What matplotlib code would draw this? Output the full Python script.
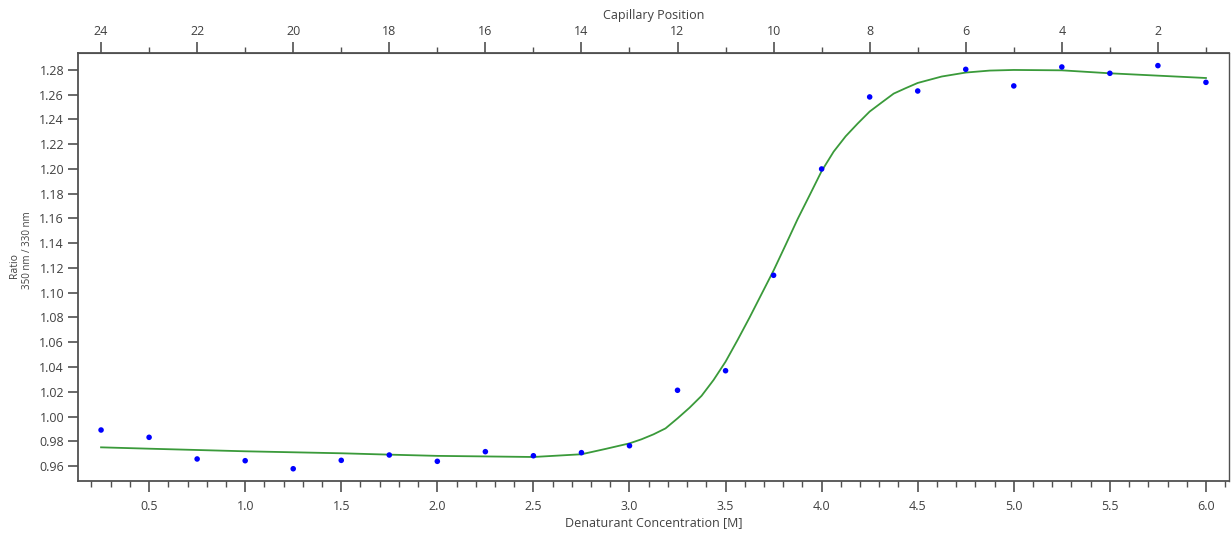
import matplotlib.pyplot as plt
from matplotlib.ticker import MultipleLocator

plt.rcParams['font.family'] = ['Open Sans', 'DejaVu Sans']

# measured ratio per capillary
conc = [0.25, 0.5, 0.75, 1.0, 1.25, 1.5, 1.75, 2.0, 2.25, 2.5, 2.75, 3.0,
        3.25, 3.5, 3.75, 4.0, 4.25, 4.5, 4.75, 5.0, 5.25, 5.5, 5.75, 6.0]
ratio = [0.9891, 0.9832, 0.9657, 0.9643, 0.9578, 0.9646, 0.9689, 0.9638,
         0.9716, 0.9683, 0.9708, 0.9764, 1.0212, 1.0370, 1.1141, 1.2000,
         1.2582, 1.2630, 1.2805, 1.2671, 1.2824, 1.2773, 1.2835, 1.2700]

# fitted curve
fit_x = [0.25, 0.5, 1.0, 1.5, 1.75, 2.0, 2.5, 2.75, 2.875, 3.0, 3.0625,
         3.125, 3.1875, 3.25, 3.3125, 3.375, 3.4375, 3.5, 3.5625, 3.625,
         3.6875, 3.75, 3.8125, 3.875, 3.9375, 4.0, 4.0625, 4.125, 4.1875,
         4.25, 4.3125, 4.375, 4.4375, 4.5, 4.625, 4.75, 4.875, 5.0, 5.25,
         5.5, 5.75, 6.0]
fit_y = [0.9751, 0.9740, 0.9719, 0.9703, 0.9692, 0.9682, 0.9673, 0.9695,
         0.9738, 0.9783, 0.9816, 0.9856, 0.9904, 0.9985, 1.0071, 1.0167,
         1.0295, 1.0443, 1.0618, 1.0800, 1.0990, 1.1180, 1.1386, 1.1595,
         1.1788, 1.1983, 1.2140, 1.2264, 1.2367, 1.2464, 1.2537, 1.2609,
         1.2653, 1.2695, 1.2747, 1.2779, 1.2795, 1.2800, 1.2797, 1.2773,
         1.2754, 1.2735]

top_major = list(range(2, 25, 2))
top_minor = list(range(1, 25, 2))

txt = '#404040'
spine = '#505050'

fig = plt.figure(figsize=(12.32, 5.34), dpi=100)
ax = fig.add_axes([78/1232, 1 - 481/534, (1229-78)/1232, (481-53)/534])

ax.plot(fit_x, fit_y, color='#3a9a3a', lw=1.3, zorder=2)
ax.scatter(conc, ratio, s=16, color='#0000ff', edgecolors='none', zorder=3)

ax.set_xlim(0.13, 6.12)
ax.set_ylim(0.9479, 1.2937)
ax.xaxis.set_major_locator(MultipleLocator(0.5))
ax.xaxis.set_minor_locator(MultipleLocator(0.1))
ax.yaxis.set_major_locator(MultipleLocator(0.02))
ax.yaxis.set_major_formatter(plt.FormatStrFormatter('%.2f'))
ax.tick_params(axis='x', which='major', length=8, width=1.2, color=spine,
               labelsize=9, labelcolor=txt, pad=6)
ax.tick_params(axis='x', which='minor', length=4, width=1.0, color=spine)
ax.tick_params(axis='y', which='major', length=7, width=1.2, color=spine,
               labelsize=9, labelcolor=txt, pad=3)
for s in ax.spines.values():
    s.set_color(spine)
    s.set_linewidth(1.3)
ax.spines['right'].set_linewidth(1.0)

ax.set_xlabel('Denaturant Concentration [M]', fontsize=9, color=txt, labelpad=2)

top = ax.secondary_xaxis('top', functions=(lambda x: 25 - 4 * x,
                                          lambda p: (25 - p) / 4))
top.set_xticks(top_major)
top.set_xticks(top_minor, minor=True)
top.tick_params(axis='x', which='major', length=8, width=1.2, color=spine,
                labelsize=9, labelcolor=txt, pad=3)
top.tick_params(axis='x', which='minor', length=4, width=1.0, color=spine)
top.spines['top'].set_color(spine)
top.set_xlabel('Capillary Position', fontsize=9, color=txt, labelpad=4)

fig.text(15/1232, 1 - 265/534, 'Ratio', rotation=90, fontsize=7.5,
         color=txt, ha='center', va='center')
fig.text(28/1232, 1 - 250/534, '350 nm / 330 nm', rotation=90, fontsize=7,
         color=txt, ha='center', va='center')

fig.savefig('out.png', dpi=100)
